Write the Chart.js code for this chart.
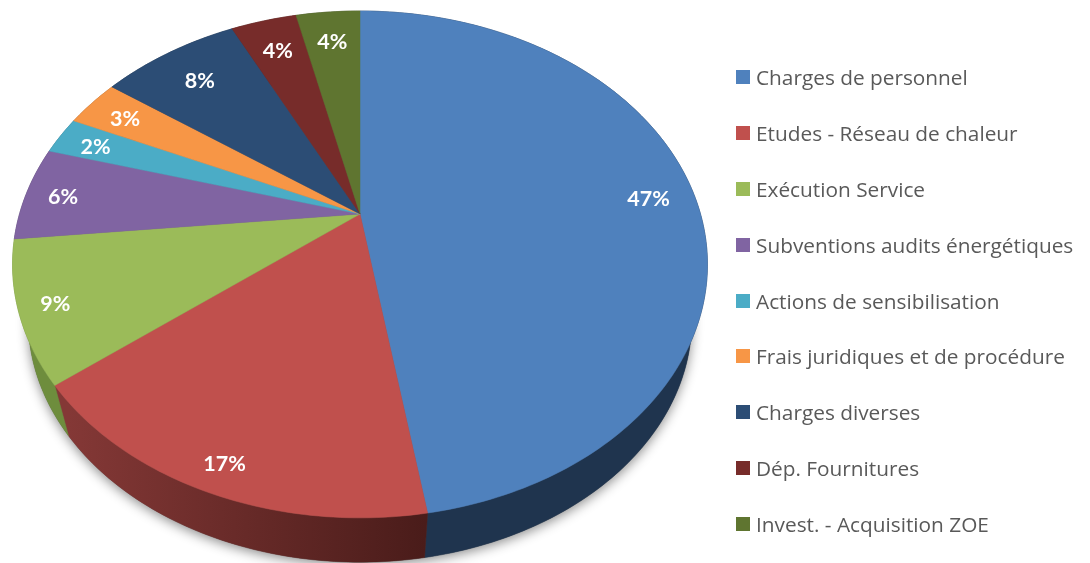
<!DOCTYPE html>
<html lang="fr">
<head>
<meta charset="utf-8">
<title>Répartition des charges</title>
<script src="https://cdn.jsdelivr.net/npm/chart.js@4"></script>
<style>
    html, body { margin: 0; padding: 0; background: #fff; overflow: hidden; }
    #wrap { position: relative; width: 1090px; height: 563px; }
    #legend { position: absolute; left: 736px; top: 49px; margin: 0; padding: 0; list-style: none;
              font: 20.8px "Open Sans", sans-serif; color: #595959; }
    #legend li { display: flex; align-items: center; height: 55.9px; white-space: nowrap; }
    #legend span { display: block; width: 14px; height: 14px; margin-right: 6px; flex: none; }
</style>
</head>
<body>
<div id="wrap">
    <canvas id="pieChart" width="1090" height="563"></canvas>
    <ul id="legend"></ul>
</div>
<script>
const categories = ['Charges de personnel', 'Etudes - Réseau de chaleur', 'Exécution Service',
    'Subventions audits énergétiques', 'Actions de sensibilisation', 'Frais juridiques et de procédure',
    'Charges diverses', 'Dép. Fournitures', 'Invest. - Acquisition ZOE'];
const shares = [47.45, 16.95, 9, 6, 2.4, 3.1, 7.8, 3.7, 3.6];
const colors = ['#4f81bd', '#c0504d', '#9bbb59', '#8064a2', '#4bacc6', '#f79646', '#2c4d75', '#772c2a', '#5f7530'];
const sideColors = [['#1f344e', '#1f344e'], ['#843836', '#4a1c1a'], ['#6e8d3d', '#6e8d3d'], ['#4c3c61', '#4c3c61'],
    ['#2d6776', '#2d6776'], ['#94592a', '#94592a'], ['#1a2e46', '#1a2e46'], ['#471a19', '#471a19'], ['#39461d', '#39461d']];
// distance of each label from the apex, as a fraction of the radius
const labelRadii = [0.862, 0.909, 0.9, 0.889, 0.877, 0.866, 0.817, 0.832, 0.839];

// The pie is seen in perspective, so the apex is not the centre of the ellipse
const apexX = 360, apexY = 214;
const persp = 0.199, scaleY = 243.4, scaleX = 340.5;
const rimScale = 0.955, rimDrop = 58;

function topPoint(angle, r = 1) {
    const u = r * Math.cos(angle), v = -r * Math.sin(angle); // angle 0 = chart's 3 o'clock, v points up
    const d = 1 + persp * v;
    return { x: apexX + scaleX * u / d, y: apexY - scaleY * v / d };
}

function rimPoint(angle) {
    const p = topPoint(angle);
    return { x: apexX + (p.x - apexX) * rimScale, y: apexY + rimDrop + (p.y - apexY) * rimScale };
}

function sweep(start, end) {
    const steps = Math.max(2, Math.ceil((end - start) / (Math.PI / 180)));
    const angles = [];
    for (let i = 0; i <= steps; i++) angles.push(start + (end - start) * i / steps);
    return angles;
}

const perspectivePie = {
    id: 'perspectivePie',
    beforeDatasetDraw(chart, args) {
        const ctx = chart.ctx;
        const arcs = args.meta.data;

        // Shadow under the disc
        ctx.save();
        ctx.shadowColor = 'rgba(0, 0, 0, 0.45)';
        ctx.shadowBlur = 12;
        ctx.shadowOffsetY = 3;
        ctx.fillStyle = '#555';
        ctx.beginPath();
        sweep(0, Math.PI * 2).forEach(a => { const p = rimPoint(a); ctx.lineTo(p.x, p.y); });
        ctx.closePath();
        ctx.fill();
        ctx.restore();

        // Sides first, the top surface covers what is behind
        arcs.forEach((arc, i) => {
            const angles = sweep(arc.startAngle, arc.endAngle);
            const rim = angles.map(rimPoint);
            const xs = rim.map(p => p.x);
            const grad = ctx.createLinearGradient(Math.min(...xs), 0, Math.max(...xs), 0);
            grad.addColorStop(0, sideColors[i][0]);
            grad.addColorStop(1, sideColors[i][1]);
            ctx.fillStyle = grad;
            ctx.strokeStyle = grad;
            ctx.lineWidth = 0.5;
            ctx.beginPath();
            angles.forEach(a => { const p = topPoint(a); ctx.lineTo(p.x, p.y); });
            rim.reverse().forEach(p => ctx.lineTo(p.x, p.y));
            ctx.closePath();
            ctx.fill();
            ctx.stroke();
        });

        arcs.forEach((arc, i) => {
            ctx.fillStyle = colors[i];
            ctx.strokeStyle = colors[i];
            ctx.lineWidth = 0.5;
            ctx.beginPath();
            ctx.moveTo(apexX, apexY);
            sweep(arc.startAngle, arc.endAngle).forEach(a => { const p = topPoint(a); ctx.lineTo(p.x, p.y); });
            ctx.closePath();
            ctx.fill();
            ctx.stroke();
        });
        return false; // the flat arcs are replaced by the ones above
    },
    afterDatasetsDraw(chart) {
        const ctx = chart.ctx;
        ctx.save();
        ctx.fillStyle = '#fff';
        ctx.font = 'bold 21.5px Lato, sans-serif';
        ctx.textAlign = 'center';
        ctx.textBaseline = 'middle';
        chart.getDatasetMeta(0).data.forEach((arc, i) => {
            const p = topPoint((arc.startAngle + arc.endAngle) / 2, labelRadii[i]);
            ctx.fillText(Math.round(shares[i]) + '%', p.x, p.y + 2);
        });
        ctx.restore();
    }
};

new Chart(document.getElementById('pieChart').getContext('2d'), {
    type: 'pie',
    data: {
        labels: categories,
        datasets: [{ data: shares, backgroundColor: colors, borderWidth: 0 }]
    },
    options: {
        responsive: false,
        animation: false,
        plugins: {
            legend: { display: false },
            tooltip: { enabled: false }
        }
    },
    plugins: [perspectivePie]
});

document.getElementById('legend').innerHTML = categories.map((name, i) =>
    `<li><span style="background:${colors[i]}"></span>${name}</li>`).join('');
</script>
</body>
</html>
